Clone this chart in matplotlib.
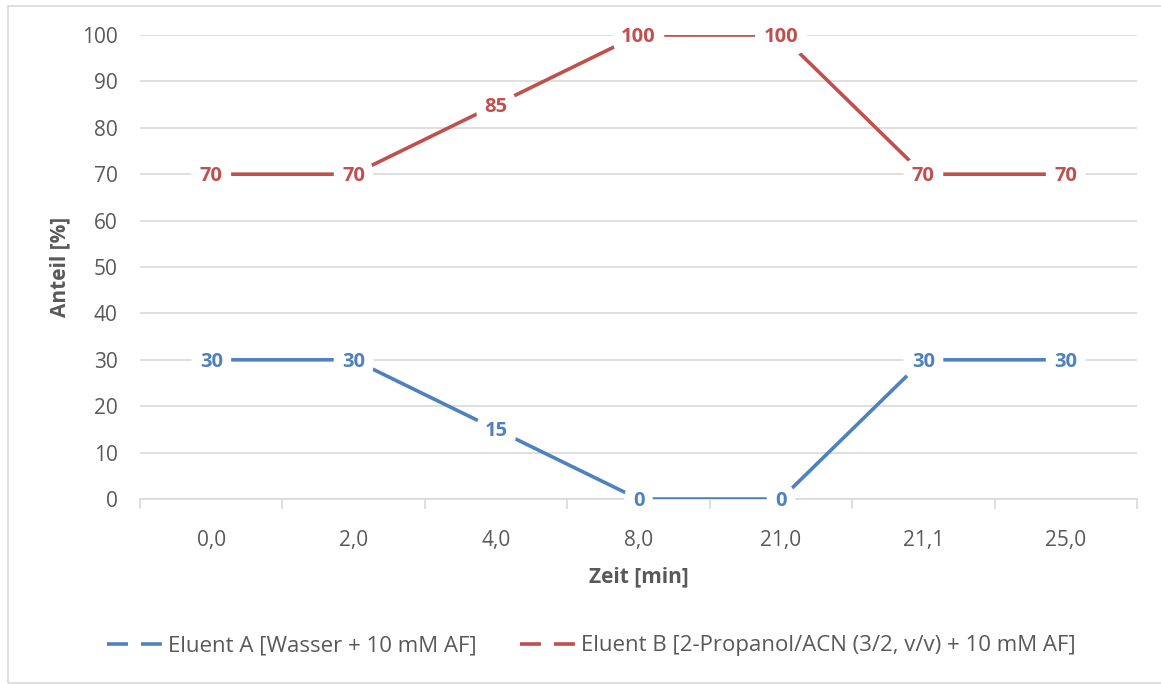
import matplotlib
matplotlib.use("Agg")
import matplotlib.pyplot as plt
from matplotlib.lines import Line2D
from matplotlib.patches import Rectangle

# Gradient programme
zeit = ["0,0", "2,0", "4,0", "8,0", "21,0", "21,1", "25,0"]
eluent_a = [30, 30, 15, 0, 0, 30, 30]
eluent_b = [70, 70, 85, 100, 100, 70, 70]
y_ticks = [0, 10, 20, 30, 40, 50, 60, 70, 80, 90, 100]
label_a = "Eluent A [Wasser + 10 mM AF]"
label_b = "Eluent B [2-Propanol/ACN (3/2, v/v) + 10 mM AF]"

BLUE = "#4F81BD"
RED = "#C0504D"
GRID = "#D9D9D9"
TEXT = "#595959"
FONT = ["Open Sans", "DejaVu Sans"]

plt.rcParams["font.family"] = FONT

W, H = 1161, 684
fig = plt.figure(figsize=(W / 100, H / 100), dpi=100)

# chart frame
fig.patches.append(Rectangle((8 / W, 1 - 683 / H), 1.2, (683 - 6) / H,
                             transform=fig.transFigure, fill=False,
                             edgecolor="#D9D9D9", lw=1.2, zorder=0))

ax = fig.add_axes([140 / W, 1 - 499 / H, (1137 - 140) / W, (499 - 35) / H])
x = list(range(len(zeit)))

# lines are clipped to the plot area, so the 0 and 100 plateaus draw thinner
ax.plot(x, eluent_a, color=BLUE, lw=2.6, solid_capstyle="butt", zorder=3)
ax.plot(x, eluent_b, color=RED, lw=2.6, solid_capstyle="butt", zorder=3)

for vals, col in ((eluent_a, BLUE), (eluent_b, RED)):
    for xi, v in zip(x, vals):
        ax.annotate(f"{v}", xy=(xi, v), xytext=(0, -1.5),
                    textcoords="offset points", ha="center", va="center",
                    color=col, fontsize=14.5, fontweight="bold", zorder=5,
                    annotation_clip=False,
                    bbox=dict(boxstyle="round,pad=0.42,rounding_size=0.8",
                              fc="white", ec="none"))

ax.set_xlim(-0.5, len(zeit) - 0.5)
ax.set_ylim(0, 100)
ax.set_yticks(y_ticks)
ax.set_yticklabels([str(t) for t in y_ticks])
ax.set_xticks(x)
ax.set_xticklabels(zeit)
ax.set_xticks([i - 0.5 for i in range(len(zeit) + 1)], minor=True)

ax.tick_params(axis="both", which="major", length=0, labelsize=15,
               labelcolor=TEXT)
ax.tick_params(axis="x", which="major", pad=22)
ax.tick_params(axis="y", which="major", pad=16)
ax.tick_params(axis="x", which="minor", length=7, color=GRID, width=1.2)

for s in ("top", "right", "left"):
    ax.spines[s].set_visible(False)
ax.spines["bottom"].set_color(GRID)
ax.spines["bottom"].set_linewidth(1.2)

ax.grid(axis="y", color=GRID, lw=1.2, zorder=0)
ax.set_axisbelow(True)

ax.set_xlabel("Zeit [min]", fontsize=15, fontweight="bold", color=TEXT,
              labelpad=11.5)
ax.set_ylabel("Anteil [%]", fontsize=15, fontweight="bold", color=TEXT,
              labelpad=8)

dash = (0, (5.8, 3.6))
handles = [
    Line2D([], [], color=BLUE, lw=2.6, linestyle=dash),
    Line2D([], [], color=RED, lw=2.6, linestyle=dash),
]
fig.legend(handles, [label_a, label_b], loc="center",
           bbox_to_anchor=(591 / W, 1 - 646 / H), ncol=2, frameon=False,
           fontsize=16, labelcolor=TEXT, handlelength=2.48,
           handletextpad=0.27, columnspacing=1.95, borderpad=0)

fig.savefig("out.png", dpi=100)
